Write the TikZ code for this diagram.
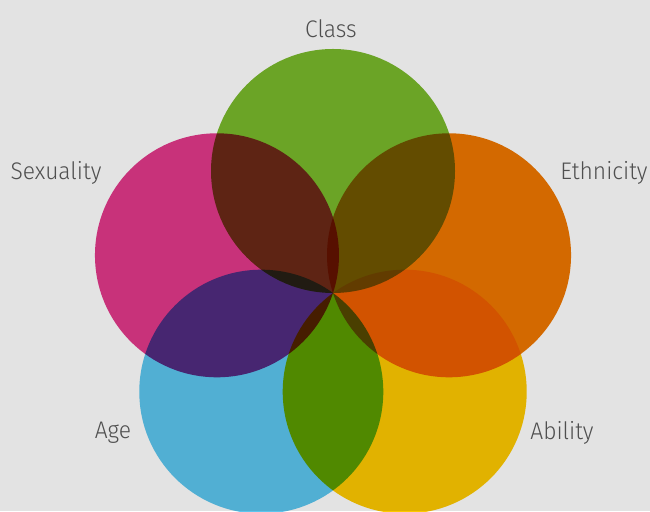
\documentclass[tikz,border=0pt]{standalone}
\usepackage{fontspec}
\setmainfont{Fira Sans Light}[FakeStretch=0.95]
\usepackage{tikz}
\definecolor{bggray}{HTML}{E3E3E3}
\definecolor{txtgray}{HTML}{4F4F4F}
\definecolor{cgreen}{HTML}{79B92B}
\definecolor{cpink}{HTML}{E1398A}
\definecolor{corange}{HTML}{EE7700}
\definecolor{cblue}{HTML}{5BC5EE}
\definecolor{cyellow}{HTML}{FDC900}
\tikzset{every picture/.style={x=1pt, y=1pt}}
\tikzset{lbl/.style={text=txtgray, font=\fontsize{24}{24}\selectfont}}

\begin{document}
\begin{tikzpicture}
    % background
    \fill[bggray] (0,0) rectangle (650,511);
    \useasboundingbox (0,0) rectangle (650,511);
    \coordinate (O) at (333,218);
    % the five circles, multiplied onto the background
    \begin{scope}[blend mode=multiply]
      \fill[cgreen] (O) ++(90:122) circle (122);
      \fill[cpink] (O) ++(162:122) circle (122);
      \fill[cblue] (O) ++(234:122) circle (122);
      \fill[cyellow] (O) ++(306:122) circle (122);
      \fill[corange] (O) ++(18:122) circle (122);
    \end{scope}
    % labels
    \node[lbl] (class) at (331,482) {Class};
    \node[lbl] (sexuality) at (56,338) {Sexuality};
    \node[lbl] (ethnicity) at (604,338) {Ethnicity};
    \node[lbl] (age) at (113,78) {Age};
    \node[lbl] (ability) at (562,78) {Ability};
\end{tikzpicture}
\end{document}
